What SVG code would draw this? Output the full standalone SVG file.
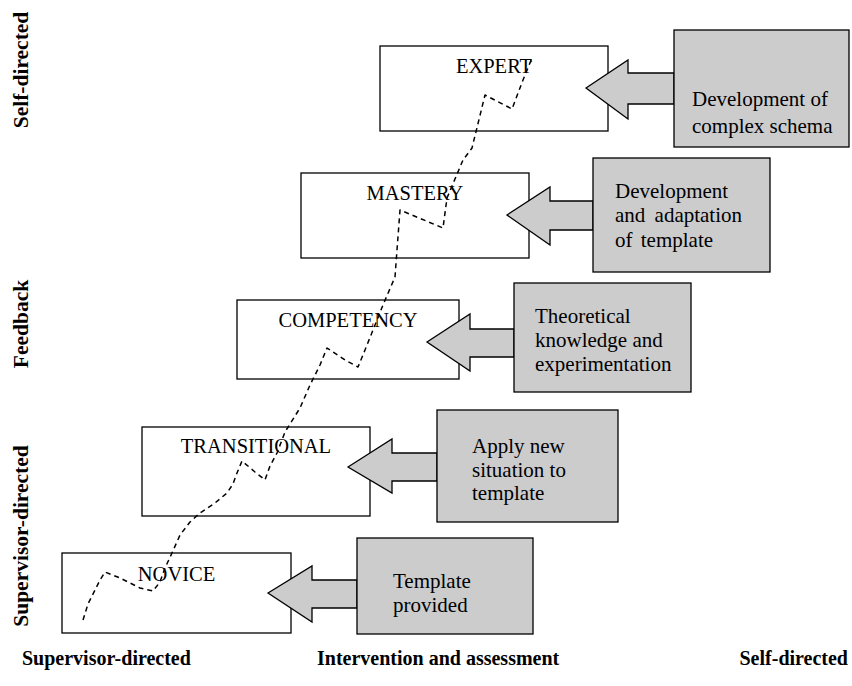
<svg xmlns="http://www.w3.org/2000/svg" width="852" height="686" viewBox="0 0 852 686">
<style>
.box{fill:#fff;stroke:#000;stroke-width:1.3}
.gbox{fill:#cccccc;stroke:#000;stroke-width:1.3}
.arr{fill:#cccccc;stroke:#000;stroke-width:1.3;stroke-linejoin:miter}
.lbl{font-size:20.5px;fill:#000;text-anchor:middle}
.gt{font-size:21px;fill:#000}
.ax{font-size:20px;font-weight:bold;fill:#000}
.vx{font-size:21.5px;font-weight:bold;fill:#000;text-anchor:middle}
.path{fill:none;stroke:#000;stroke-width:1.5;stroke-dasharray:5,4;stroke-linejoin:round}
</style>
<rect width="852" height="686" fill="#fff"/>
<g font-family="Liberation Serif, Times New Roman, serif">
<g id="novice"><rect class="box" x="62" y="553" width="229" height="80"/><text class="lbl" x="176.5" y="581">NOVICE</text></g>
<g id="transitional"><rect class="box" x="142" y="427" width="228" height="89"/><text class="lbl" x="256" y="453">TRANSITIONAL</text></g>
<g id="competency"><rect class="box" x="237" y="300" width="222" height="79"/><text class="lbl" x="348" y="327">COMPETENCY</text></g>
<g id="mastery"><rect class="box" x="301" y="173" width="228" height="85"/><text class="lbl" x="415" y="200">MASTERY</text></g>
<g id="expert"><rect class="box" x="380" y="46" width="228" height="85"/><text class="lbl" x="494" y="73">EXPERT</text></g>

<g id="connectors">
<polyline class="path" points="83,620 88,604 95,590 100,580 105,572 120,578 140,588 153,591 160,582 165,568 172,553 180,535 190,522 200,513 215,503 227,493 233,484 237,473 242,461 255,472 265,480 270,466 277,453 285,432 300,408 310,385 320,365 327,348 345,360 358,367 365,350 373,330 383,305 395,277 397,250 400,210 443,228 447,198 463,160 472,148 485,95 512,109 523,80 532,58"/>
<polygon class="arr" points="268,593 312,566 312,580 357,580 357,608 312,608 312,622"/>
<polygon class="arr" points="348,467 392,439 392,453 437,453 437,481 392,481 392,493"/>
<polygon class="arr" points="427,342 470,314 470,329 514,329 514,357 470,357 470,371"/>
<polygon class="arr" points="507,215 550,187 550,201 593,201 593,230 550,230 550,245"/>
<polygon class="arr" points="586,88 628,60 628,73 674,73 674,104 628,104 628,119"/>
</g>

<g id="c1"><rect class="gbox" x="357" y="538" width="176" height="96"/><text class="gt" x="393" y="588">Template</text><text class="gt" x="393" y="612">provided</text></g>
<g id="c2"><rect class="gbox" x="437" y="410" width="181" height="112"/><text class="gt" x="472" y="453">Apply new</text><text class="gt" x="472" y="477">situation to</text><text class="gt" x="472" y="500">template</text></g>
<g id="c3"><rect class="gbox" x="514" y="283" width="177" height="109"/><text class="gt" x="535" y="323">Theoretical</text><text class="gt" x="535" y="347">knowledge and</text><text class="gt" x="535" y="371">experimentation</text></g>
<g id="c4"><rect class="gbox" x="593" y="158" width="177" height="114"/><text class="gt" x="615" y="198">Development</text><text class="gt" x="615" y="222" word-spacing="4">and adaptation</text><text class="gt" x="615" y="247" word-spacing="3">of template</text></g>
<g id="c5"><rect class="gbox" x="674" y="30" width="175" height="117"/><text class="gt" x="692" y="106">Development of</text><text class="gt" x="692" y="133">complex schema</text></g>

<g id="axes">
<text class="vx" transform="translate(28,70) rotate(-90)">Self-directed</text>
<text class="vx" transform="translate(28,324) rotate(-90)">Feedback</text>
<text class="vx" transform="translate(28,536) rotate(-90)">Supervisor-directed</text>
<text class="ax" x="22" y="665">Supervisor-directed</text>
<text class="ax" x="317" y="665">Intervention and assessment</text>
<text class="ax" x="848" y="665" text-anchor="end">Self-directed</text>
</g>
</g>
</svg>
